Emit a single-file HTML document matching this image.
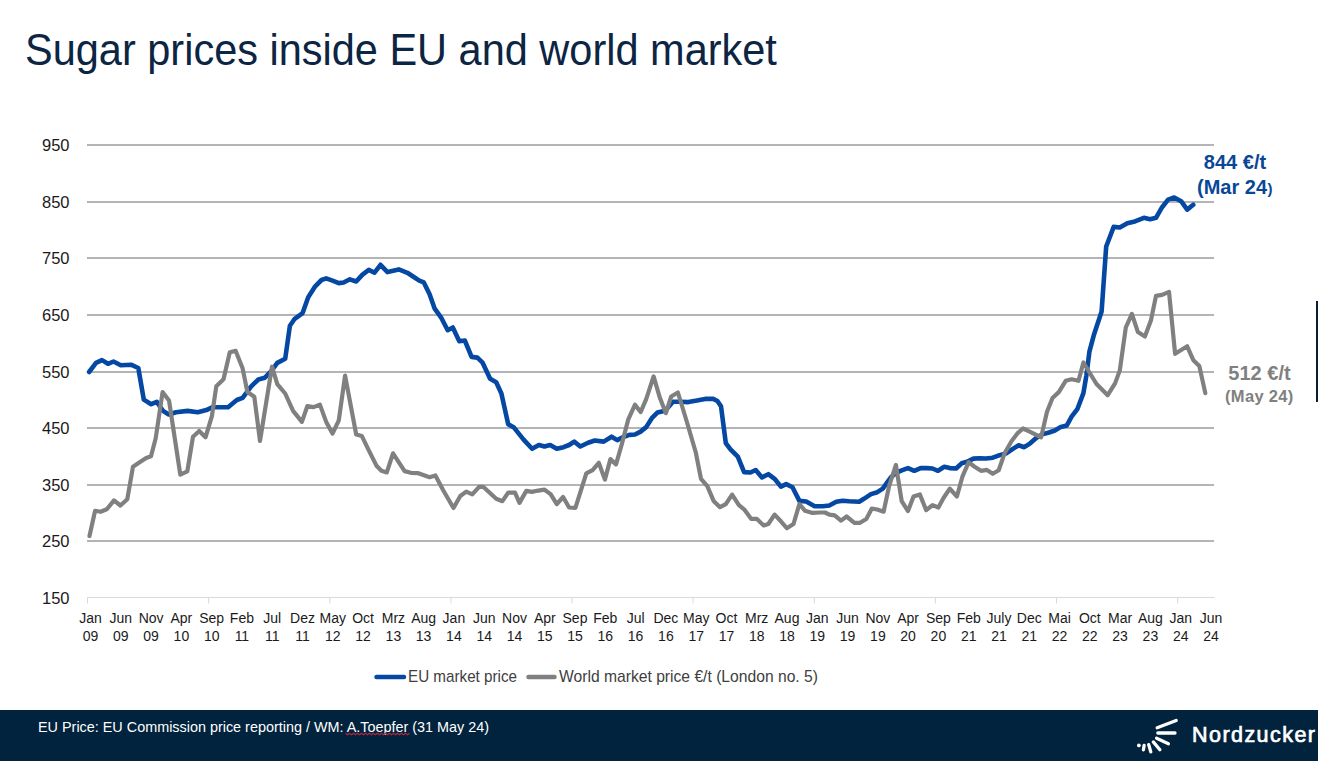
<!DOCTYPE html>
<html><head><meta charset="utf-8">
<style>
html,body{margin:0;padding:0;background:#fff;}
body{width:1318px;height:761px;overflow:hidden;position:relative;font-family:"Liberation Sans",sans-serif;}
.tt{font-size:41.5px;fill:#0c2542;}
svg{position:absolute;left:0;top:0;}
.yl{font-size:16.5px;fill:#1a1a1a;}
.xl{font-size:14px;fill:#1a1a1a;}
.lg{font-size:15.7px;fill:#404040;}
.ab{font-size:20px;font-weight:bold;}
.ab2{font-size:16.5px;font-weight:bold;letter-spacing:0.3px;}
.ft{font-size:14.4px;fill:#ffffff;}
.nz{font-size:21.5px;fill:#ffffff;stroke:#ffffff;stroke-width:0.7px;letter-spacing:1.45px;}
</style></head><body>
<svg width="1318" height="761" viewBox="0 0 1318 761">
<line x1="87" y1="541.0" x2="1214" y2="541.0" stroke="#b4b4b4" stroke-width="2"/>
<line x1="87" y1="485.0" x2="1214" y2="485.0" stroke="#b4b4b4" stroke-width="2"/>
<line x1="87" y1="428.0" x2="1214" y2="428.0" stroke="#b4b4b4" stroke-width="2"/>
<line x1="87" y1="372.0" x2="1214" y2="372.0" stroke="#b4b4b4" stroke-width="2"/>
<line x1="87" y1="315.0" x2="1214" y2="315.0" stroke="#b4b4b4" stroke-width="2"/>
<line x1="87" y1="258.0" x2="1214" y2="258.0" stroke="#b4b4b4" stroke-width="2"/>
<line x1="87" y1="202.0" x2="1214" y2="202.0" stroke="#b4b4b4" stroke-width="2"/>
<line x1="87" y1="145.0" x2="1214" y2="145.0" stroke="#b4b4b4" stroke-width="2"/>
<line x1="87" y1="597.5" x2="1214.5" y2="597.5" stroke="#d9d9d9" stroke-width="1"/>
<line x1="87.5" y1="597.5" x2="87.5" y2="603.5" stroke="#d9d9d9" stroke-width="1"/>
<line x1="208.6" y1="597.5" x2="208.6" y2="603.5" stroke="#d9d9d9" stroke-width="1"/>
<line x1="329.8" y1="597.5" x2="329.8" y2="603.5" stroke="#d9d9d9" stroke-width="1"/>
<line x1="450.9" y1="597.5" x2="450.9" y2="603.5" stroke="#d9d9d9" stroke-width="1"/>
<line x1="572.0" y1="597.5" x2="572.0" y2="603.5" stroke="#d9d9d9" stroke-width="1"/>
<line x1="693.1" y1="597.5" x2="693.1" y2="603.5" stroke="#d9d9d9" stroke-width="1"/>
<line x1="814.3" y1="597.5" x2="814.3" y2="603.5" stroke="#d9d9d9" stroke-width="1"/>
<line x1="935.4" y1="597.5" x2="935.4" y2="603.5" stroke="#d9d9d9" stroke-width="1"/>
<line x1="1056.5" y1="597.5" x2="1056.5" y2="603.5" stroke="#d9d9d9" stroke-width="1"/>
<line x1="1177.7" y1="597.5" x2="1177.7" y2="603.5" stroke="#d9d9d9" stroke-width="1"/>
<text x="69.5" y="603.5" text-anchor="end" class="yl">150</text>
<text x="69.5" y="547.0" text-anchor="end" class="yl">250</text>
<text x="69.5" y="491.0" text-anchor="end" class="yl">350</text>
<text x="69.5" y="434.0" text-anchor="end" class="yl">450</text>
<text x="69.5" y="378.0" text-anchor="end" class="yl">550</text>
<text x="69.5" y="321.0" text-anchor="end" class="yl">650</text>
<text x="69.5" y="264.0" text-anchor="end" class="yl">750</text>
<text x="69.5" y="208.0" text-anchor="end" class="yl">850</text>
<text x="69.5" y="151.0" text-anchor="end" class="yl">950</text>
<text x="90.5" y="622.9" text-anchor="middle" class="xl">Jan</text>
<text x="90.5" y="640.7" text-anchor="middle" class="xl">09</text>
<text x="120.8" y="622.9" text-anchor="middle" class="xl">Jun</text>
<text x="120.8" y="640.7" text-anchor="middle" class="xl">09</text>
<text x="151.1" y="622.9" text-anchor="middle" class="xl">Nov</text>
<text x="151.1" y="640.7" text-anchor="middle" class="xl">09</text>
<text x="181.4" y="622.9" text-anchor="middle" class="xl">Apr</text>
<text x="181.4" y="640.7" text-anchor="middle" class="xl">10</text>
<text x="211.7" y="622.9" text-anchor="middle" class="xl">Sep</text>
<text x="211.7" y="640.7" text-anchor="middle" class="xl">10</text>
<text x="241.9" y="622.9" text-anchor="middle" class="xl">Feb</text>
<text x="241.9" y="640.7" text-anchor="middle" class="xl">11</text>
<text x="272.2" y="622.9" text-anchor="middle" class="xl">Jul</text>
<text x="272.2" y="640.7" text-anchor="middle" class="xl">11</text>
<text x="302.5" y="622.9" text-anchor="middle" class="xl">Dez</text>
<text x="302.5" y="640.7" text-anchor="middle" class="xl">11</text>
<text x="332.8" y="622.9" text-anchor="middle" class="xl">May</text>
<text x="332.8" y="640.7" text-anchor="middle" class="xl">12</text>
<text x="363.1" y="622.9" text-anchor="middle" class="xl">Oct</text>
<text x="363.1" y="640.7" text-anchor="middle" class="xl">12</text>
<text x="393.4" y="622.9" text-anchor="middle" class="xl">Mrz</text>
<text x="393.4" y="640.7" text-anchor="middle" class="xl">13</text>
<text x="423.6" y="622.9" text-anchor="middle" class="xl">Aug</text>
<text x="423.6" y="640.7" text-anchor="middle" class="xl">13</text>
<text x="453.9" y="622.9" text-anchor="middle" class="xl">Jan</text>
<text x="453.9" y="640.7" text-anchor="middle" class="xl">14</text>
<text x="484.2" y="622.9" text-anchor="middle" class="xl">Jun</text>
<text x="484.2" y="640.7" text-anchor="middle" class="xl">14</text>
<text x="514.5" y="622.9" text-anchor="middle" class="xl">Nov</text>
<text x="514.5" y="640.7" text-anchor="middle" class="xl">14</text>
<text x="544.8" y="622.9" text-anchor="middle" class="xl">Apr</text>
<text x="544.8" y="640.7" text-anchor="middle" class="xl">15</text>
<text x="575.0" y="622.9" text-anchor="middle" class="xl">Sep</text>
<text x="575.0" y="640.7" text-anchor="middle" class="xl">15</text>
<text x="605.3" y="622.9" text-anchor="middle" class="xl">Feb</text>
<text x="605.3" y="640.7" text-anchor="middle" class="xl">16</text>
<text x="635.6" y="622.9" text-anchor="middle" class="xl">Jul</text>
<text x="635.6" y="640.7" text-anchor="middle" class="xl">16</text>
<text x="665.9" y="622.9" text-anchor="middle" class="xl">Dec</text>
<text x="665.9" y="640.7" text-anchor="middle" class="xl">16</text>
<text x="696.2" y="622.9" text-anchor="middle" class="xl">May</text>
<text x="696.2" y="640.7" text-anchor="middle" class="xl">17</text>
<text x="726.5" y="622.9" text-anchor="middle" class="xl">Oct</text>
<text x="726.5" y="640.7" text-anchor="middle" class="xl">17</text>
<text x="756.7" y="622.9" text-anchor="middle" class="xl">Mrz</text>
<text x="756.7" y="640.7" text-anchor="middle" class="xl">18</text>
<text x="787.0" y="622.9" text-anchor="middle" class="xl">Aug</text>
<text x="787.0" y="640.7" text-anchor="middle" class="xl">18</text>
<text x="817.3" y="622.9" text-anchor="middle" class="xl">Jan</text>
<text x="817.3" y="640.7" text-anchor="middle" class="xl">19</text>
<text x="847.6" y="622.9" text-anchor="middle" class="xl">Jun</text>
<text x="847.6" y="640.7" text-anchor="middle" class="xl">19</text>
<text x="877.9" y="622.9" text-anchor="middle" class="xl">Nov</text>
<text x="877.9" y="640.7" text-anchor="middle" class="xl">19</text>
<text x="908.1" y="622.9" text-anchor="middle" class="xl">Apr</text>
<text x="908.1" y="640.7" text-anchor="middle" class="xl">20</text>
<text x="938.4" y="622.9" text-anchor="middle" class="xl">Sep</text>
<text x="938.4" y="640.7" text-anchor="middle" class="xl">20</text>
<text x="968.7" y="622.9" text-anchor="middle" class="xl">Feb</text>
<text x="968.7" y="640.7" text-anchor="middle" class="xl">21</text>
<text x="999.0" y="622.9" text-anchor="middle" class="xl">July</text>
<text x="999.0" y="640.7" text-anchor="middle" class="xl">21</text>
<text x="1029.3" y="622.9" text-anchor="middle" class="xl">Dec</text>
<text x="1029.3" y="640.7" text-anchor="middle" class="xl">21</text>
<text x="1059.6" y="622.9" text-anchor="middle" class="xl">Mai</text>
<text x="1059.6" y="640.7" text-anchor="middle" class="xl">22</text>
<text x="1089.8" y="622.9" text-anchor="middle" class="xl">Oct</text>
<text x="1089.8" y="640.7" text-anchor="middle" class="xl">22</text>
<text x="1120.1" y="622.9" text-anchor="middle" class="xl">Mar</text>
<text x="1120.1" y="640.7" text-anchor="middle" class="xl">23</text>
<text x="1150.4" y="622.9" text-anchor="middle" class="xl">Aug</text>
<text x="1150.4" y="640.7" text-anchor="middle" class="xl">23</text>
<text x="1180.7" y="622.9" text-anchor="middle" class="xl">Jan</text>
<text x="1180.7" y="640.7" text-anchor="middle" class="xl">24</text>
<text x="1211.0" y="622.9" text-anchor="middle" class="xl">Jun</text>
<text x="1211.0" y="640.7" text-anchor="middle" class="xl">24</text>
<path d="M89.1,372.0 L96.0,362.9 L102.0,360.1 L108.0,363.8 L113.5,361.5 L120.8,365.2 L131.0,364.7 L138.3,368.0 L143.8,399.6 L151.2,404.2 L156.8,401.9 L163.0,410.9 L168.8,414.5 L176.0,412.3 L187.6,410.9 L197.7,412.3 L206.4,410.1 L212.2,407.2 L228.1,407.2 L236.8,400.0 L242.6,397.8 L251.2,386.3 L258.4,379.5 L264.7,377.8 L271.0,371.5 L277.3,362.9 L285.2,358.8 L289.9,325.7 L294.7,318.8 L302.6,313.1 L308.2,297.3 L315.2,286.3 L321.5,280.0 L326.2,278.4 L332.5,280.6 L338.8,283.1 L343.6,282.5 L349.9,279.3 L356.2,281.5 L362.5,274.6 L368.8,269.9 L374.5,272.7 L380.5,264.8 L387.5,272.1 L398.8,269.4 L407.4,272.8 L414.2,277.2 L419.3,280.6 L423.8,282.4 L429.6,294.3 L434.7,308.7 L441.5,318.2 L447.7,330.2 L452.8,327.5 L459.3,341.2 L464.8,340.5 L471.6,356.9 L477.4,357.6 L482.6,362.7 L490.1,378.8 L496.2,382.2 L501.4,393.5 L508.2,424.2 L514.0,427.6 L523.6,439.6 L532.1,448.8 L538.9,445.0 L544.5,446.5 L550.1,445.0 L556.8,448.8 L563.5,447.2 L569.1,445.0 L574.2,441.6 L580.3,446.5 L588.1,442.7 L594.8,440.5 L603.7,441.6 L611.6,436.7 L617.2,440.1 L622.7,437.2 L629.4,434.9 L635.0,434.5 L640.6,431.6 L646.2,427.1 L651.8,418.2 L657.4,412.6 L665.2,410.8 L673.0,401.8 L680.0,401.7 L688.4,402.1 L696.8,400.6 L705.2,398.9 L713.2,398.9 L717.4,401.0 L721.0,406.3 L725.8,443.1 L730.5,449.4 L737.8,456.7 L744.1,472.1 L750.4,472.5 L755.7,470.0 L762.0,477.4 L768.3,474.2 L774.6,478.8 L780.9,486.6 L786.2,484.1 L792.5,487.2 L799.4,500.9 L806.2,501.5 L814.6,506.2 L823.0,506.2 L829.3,505.5 L836.3,501.7 L842.6,500.7 L848.9,501.2 L859.2,501.7 L863.9,498.8 L871.0,494.1 L877.3,492.2 L882.8,488.6 L886.7,483.1 L890.7,477.5 L896.2,472.8 L901.7,470.4 L908.0,468.1 L914.3,470.8 L920.6,468.1 L926.9,468.1 L932.5,468.5 L938.0,470.8 L944.3,466.8 L949.8,468.1 L956.1,468.5 L961.6,463.3 L967.1,461.8 L973.4,458.6 L979.7,458.3 L985.9,458.5 L992.8,457.7 L999.7,455.1 L1006.6,453.2 L1012.5,449.2 L1018.4,445.3 L1024.3,447.2 L1030.2,443.3 L1036.2,438.0 L1042.1,434.4 L1049.0,432.5 L1054.9,430.5 L1060.8,426.9 L1066.7,425.6 L1071.6,416.7 L1077.5,408.8 L1083.4,393.1 L1086.4,375.3 L1089.4,351.7 L1094.1,334.2 L1101.6,311.5 L1106.2,246.5 L1113.7,226.9 L1119.8,227.5 L1127.3,223.2 L1134.9,221.4 L1143.9,217.8 L1150.0,219.3 L1156.0,217.8 L1162.1,207.2 L1168.1,199.6 L1174.2,197.5 L1181.1,201.2 L1187.2,209.6 L1193.2,204.8" fill="none" stroke="#0548a3" stroke-width="4.6" stroke-linejoin="round" stroke-linecap="round"/>
<path d="M89.5,536.0 L95.1,510.8 L100.5,511.8 L106.8,509.3 L114.0,500.4 L120.4,505.5 L127.3,499.2 L133.0,466.7 L140.0,462.0 L146.2,457.9 L151.0,456.3 L155.7,438.3 L162.6,392.0 L169.0,400.4 L180.3,474.6 L187.3,471.4 L193.0,436.7 L199.2,431.0 L205.5,437.3 L211.9,416.2 L216.3,386.2 L223.5,379.3 L229.8,352.2 L235.7,350.9 L242.6,368.3 L247.4,392.0 L254.3,396.7 L260.0,440.9 L272.0,366.7 L277.3,384.1 L285.2,393.5 L293.1,410.9 L301.9,421.9 L307.3,406.2 L313.6,407.1 L319.9,404.6 L326.2,421.9 L332.5,433.6 L338.8,420.3 L345.1,375.6 L356.2,434.5 L361.9,436.1 L368.8,450.3 L376.7,466.1 L381.4,470.8 L386.8,472.4 L393.0,453.3 L404.6,471.1 L410.8,472.8 L417.6,473.1 L429.6,477.2 L435.4,475.5 L443.2,490.2 L453.5,508.0 L460.3,496.0 L466.2,491.6 L472.3,494.3 L479.1,486.8 L483.2,486.8 L496.2,498.8 L502.4,501.2 L508.2,492.6 L515.0,492.6 L519.5,502.9 L526.3,490.9 L532.1,491.9 L536.7,490.8 L544.5,489.7 L550.6,494.1 L556.8,504.2 L563.1,497.0 L569.1,507.5 L575.4,507.8 L586.3,473.4 L592.6,470.2 L598.8,462.8 L604.9,479.6 L610.4,459.1 L616.0,464.4 L621.6,445.0 L628.3,419.3 L635.0,404.7 L640.6,412.1 L646.2,399.2 L653.6,376.4 L659.6,396.9 L665.9,413.2 L671.2,396.5 L677.9,392.5 L686.3,420.0 L695.8,452.5 L701.0,478.8 L707.3,486.2 L713.6,500.9 L720.0,507.2 L725.8,504.1 L732.1,494.6 L738.9,505.1 L744.1,509.3 L751.1,518.8 L756.7,518.8 L763.7,525.5 L768.3,524.0 L774.6,514.6 L780.9,521.3 L786.8,528.2 L793.5,524.0 L799.4,504.1 L805.1,510.8 L812.5,512.9 L819.8,512.5 L825.1,512.5 L829.3,514.6 L834.7,515.4 L841.0,520.6 L846.6,516.5 L854.4,522.8 L860.0,522.8 L866.3,519.0 L871.8,508.6 L877.3,509.5 L883.6,511.7 L889.1,486.2 L895.9,464.9 L901.7,501.2 L908.0,511.1 L913.5,496.5 L919.8,494.4 L926.2,510.2 L932.5,505.1 L938.4,507.5 L943.5,498.0 L949.8,488.6 L956.9,496.5 L962.4,476.7 L968.7,462.2 L974.2,466.5 L981.0,470.8 L986.9,469.9 L992.8,473.8 L998.7,470.3 L1004.6,453.2 L1011.5,441.3 L1017.4,433.4 L1023.0,428.5 L1030.2,431.9 L1041.1,437.4 L1047.0,411.8 L1052.5,398.0 L1058.8,392.1 L1065.7,380.8 L1071.6,379.3 L1078.5,380.8 L1083.4,362.5 L1096.5,384.0 L1107.7,395.2 L1115.2,383.1 L1119.8,370.4 L1125.8,327.5 L1131.9,313.9 L1137.9,332.1 L1144.9,336.6 L1150.9,320.6 L1156.0,295.8 L1162.1,294.9 L1169.0,291.9 L1175.1,353.8 L1187.2,346.3 L1193.2,359.9 L1199.3,365.9 L1205.3,393.1" fill="none" stroke="#808080" stroke-width="4.2" stroke-linejoin="round" stroke-linecap="round"/>
<line x1="376.5" y1="677.1" x2="404" y2="677.1" stroke="#0548a3" stroke-width="4.5" stroke-linecap="round"/>
<text x="408" y="682" class="lg" textLength="109" lengthAdjust="spacingAndGlyphs">EU market price</text>
<line x1="528.5" y1="677.1" x2="554.5" y2="677.1" stroke="#808080" stroke-width="4.5" stroke-linecap="round"/>
<text x="559" y="682" class="lg" textLength="259" lengthAdjust="spacingAndGlyphs">World market price €/t (London no. 5)</text>
<text x="1235" y="168.5" text-anchor="middle" class="ab" fill="#0a4796">844 €/t</text>
<text x="1197" y="193.6" class="ab" fill="#0a4796">(Mar 24<tspan style="font-size:15px" dx="0.5">)</tspan></text>
<text x="1259.5" y="379.8" text-anchor="middle" class="ab" fill="#808080">512 €/t</text>
<text x="1259.3" y="401.9" text-anchor="middle" class="ab2" fill="#808080">(May 24)</text>
<rect x="1316" y="301" width="2" height="101" fill="#0c1e33"/>
<text transform="translate(25,64.6) scale(1,1.05)" x="0" y="0" class="tt">Sugar prices inside EU and world market</text>
<rect x="0" y="710" width="1318" height="51" fill="#01233d"/>
<text x="38" y="732" class="ft">EU Price: EU Commission price reporting / WM: A.Toepfer (31 May 24)</text>
<polyline points="345.5,733.2 347.5,734.8 349.5,733.2 351.5,734.8 353.5,733.2 355.5,734.8 357.5,733.2 359.5,734.8 361.5,733.2 363.5,734.8 365.5,733.2 367.5,734.8 369.5,733.2 371.5,734.8 373.5,733.2 375.5,734.8 377.5,733.2 379.5,734.8 381.5,733.2 383.5,734.8 385.5,733.2 387.5,734.8 389.5,733.2 391.5,734.8 393.5,733.2 395.5,734.8 397.5,733.2 399.5,734.8 401.5,733.2 403.5,734.8 405.5,733.2 407.5,734.8 409.5,733.2" fill="none" stroke="#b0283c" stroke-width="1.1"/>
<line x1="1157.2" y1="727.8" x2="1176.2" y2="720.5" stroke="#ffffff" stroke-width="3.3" stroke-linecap="round"/>
<line x1="1157.8" y1="733.0" x2="1175.0" y2="733.0" stroke="#ffffff" stroke-width="3.3" stroke-linecap="round"/>
<line x1="1156.6" y1="738.3" x2="1168.4" y2="743.7" stroke="#ffffff" stroke-width="3.3" stroke-linecap="round"/>
<line x1="1153.3" y1="741.9" x2="1159.9" y2="749.8" stroke="#ffffff" stroke-width="3.3" stroke-linecap="round"/>
<line x1="1148.7" y1="744.6" x2="1150.8" y2="751.9" stroke="#ffffff" stroke-width="3.3" stroke-linecap="round"/>
<line x1="1144.1" y1="745.5" x2="1143.4" y2="749.8" stroke="#ffffff" stroke-width="3.3" stroke-linecap="round"/>
<circle cx="1138.9" cy="745.4" r="1.9" fill="#ffffff"/>
<text x="1192" y="741.7" class="nz">Nordzucker</text>
</svg>
</body></html>
